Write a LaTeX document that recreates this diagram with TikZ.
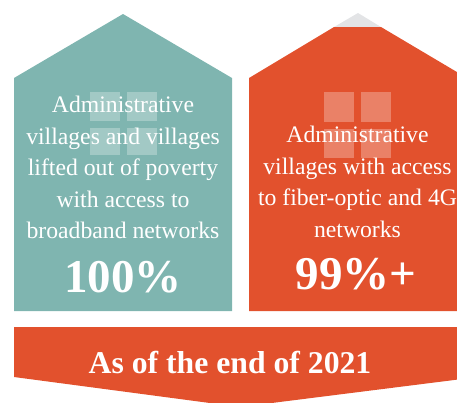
\documentclass[tikz,border=0pt]{standalone}
\usepackage{fontspec}
\setmainfont{Liberation Serif}
\definecolor{teal1}{RGB}{127,181,176}
\definecolor{orange1}{RGB}{226,81,45}
\definecolor{grey1}{RGB}{227,228,230}
\begin{document}
\begin{tikzpicture}[x=1pt,y=-1pt,
  pane/.style={fill=white,fill opacity=0.28,draw=none},
  bodytext/.style={text=white,align=center,inner sep=0pt,font=\fontsize{23.7}{31.6}\selectfont},
  bigtext/.style={text=white,inner sep=0pt,font=\fontsize{47}{50}\selectfont\bfseries},
  bannertext/.style={text=white,inner sep=0pt,font=\fontsize{31.7}{36}\selectfont\bfseries}]
\useasboundingbox (0,0) rectangle (457,402);
\clip (0,0) rectangle (457,402);
% left house
\fill[teal1] (14,78) -- (123,14) -- (232,78) -- (232,311) -- (14,311) -- cycle;
\fill[pane] (90,92) rectangle (120,121);
\fill[pane] (127,92) rectangle (157,121);
\fill[pane] (90,128) rectangle (120,155);
\fill[pane] (127,128) rectangle (157,155);
% right house
\fill[grey1] (334,27) -- (358,13) -- (381,27) -- cycle;
\fill[orange1] (249,78) -- (334,27) -- (381,27) -- (467,78) -- (467,311) -- (249,311) -- cycle;
\fill[pane] (324,92) rectangle (354,122);
\fill[pane] (361,92) rectangle (391,122);
\fill[pane] (324,129) rectangle (354,158);
\fill[pane] (361,129) rectangle (391,158);
% banner
\fill[orange1] (14,327) -- (470,327) -- (470,378) -- (240,407) -- (14,377) -- cycle;
% texts
\node[bodytext,anchor=north] (lt) at (123,95.8) {Administrative\\villages and villages\\lifted out of poverty\\with access to\\broadband networks};
\node[bigtext,anchor=base] (ln) at (123,292) {100\%};
\node[bodytext,anchor=north] (rt) at (357.5,125.8) {Administrative\\villages with access\\to fiber-optic and 4G\\networks};
\node[bigtext,anchor=base] (rn) at (356,289) {99\%+};
\node[bannertext,anchor=base] (bt) at (230,373) {As of the end of 2021};
\end{tikzpicture}
\end{document}
